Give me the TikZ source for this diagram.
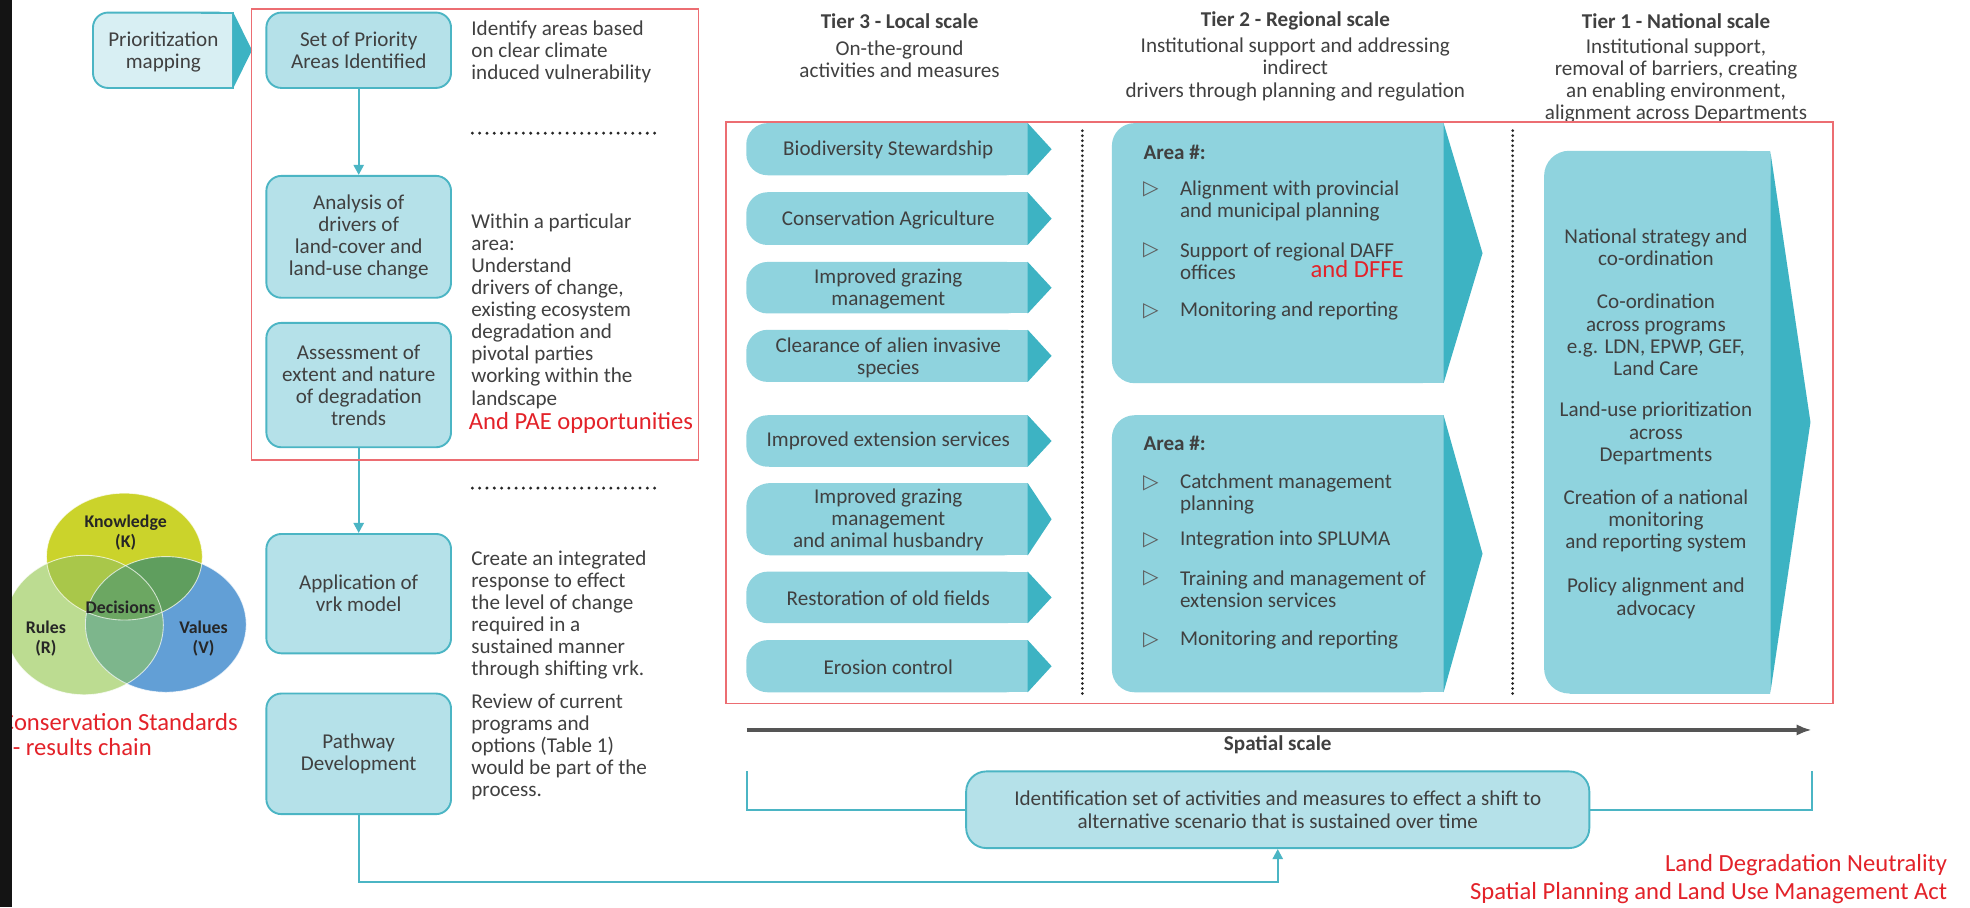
\documentclass[tikz,border=0pt]{standalone}
\usepackage{fontspec}
\setmainfont{Carlito}
\newfontfamily\dejavu{DejaVu Sans}
\usetikzlibrary{arrows.meta}
\definecolor{tealline}{HTML}{4BB5C4}
\definecolor{boxlight}{HTML}{B5E1E9}
\definecolor{boxprior}{HTML}{D8EFF3}
\definecolor{arrowbody}{HTML}{8FD3DE}
\definecolor{arrowtip}{HTML}{3DB3C3}
\definecolor{textgray}{HTML}{404040}
\definecolor{redtxt}{HTML}{E32229}
\definecolor{redline}{HTML}{EC6D72}
\definecolor{knowc}{HTML}{CBD32B}
\definecolor{rulesc}{HTML}{BCDC91}
\definecolor{valuesc}{HTML}{629FD6}
\definecolor{krc}{HTML}{A9C74A}
\definecolor{kvc}{HTML}{5F9E5E}
\definecolor{rvc}{HTML}{7DB68C}
\definecolor{krvc}{HTML}{6CA762}
\definecolor{scalec}{HTML}{555555}
\newcommand\bodyfont{\fontsize{16.8}{17.6}\selectfont}
\newcommand\redfont{\fontsize{19.6}{20}\selectfont}
\newcommand\chev[6]{%
  \fill[arrowbody, rounded corners=#6pt] (#1,#4) rectangle (#2,#5);
  \fill[arrowbody] ({#1+#6+1},#4) rectangle (#2,#5);
  \fill[arrowtip] (#2,#4) -- (#3,{(#4+#5)/2}) -- (#2,#5) -- cycle;}
\begin{document}
\begin{tikzpicture}[x=1pt,y=-1pt,
  body/.style={font=\bodyfont, text=textgray, inner sep=0pt},
  bodyL/.style={body, align=left, anchor=west},
  bodyC/.style={body, align=center},
  hdr/.style={font=\bodyfont\bfseries, text=textgray, inner sep=0pt},
  redt/.style={font=\redfont, text=redtxt, inner sep=0pt},
  lbox/.style={draw=tealline, fill=boxlight, line width=1.5pt, rounded corners=12pt, minimum width=147pt, inner sep=0pt, align=center, font=\bodyfont, text=textgray},
  conn/.style={draw=tealline, line width=1.8pt, -{Triangle[length=8pt,width=8pt]}},
  tealrule/.style={draw=tealline, line width=1.6pt},
  hdots/.style={draw=black!85, line width=2.6pt, dash pattern=on 0pt off 5.8pt, line cap=round},
  vdots/.style={draw=black!85, line width=2.4pt, dash pattern=on 0pt off 4pt, line cap=round},
  redbox/.style={draw=redline, line width=1.2pt},
  bullet/.style={font=\dejavu\fontsize{16}{16}\selectfont, text=textgray!85, inner sep=0pt},
  venn/.style={font=\bfseries\fontsize{14.2}{16}\selectfont, text=black!85, inner sep=0pt, align=center},
]
\useasboundingbox[fill=white] (0,0) rectangle (1568,722);

% ---------- Prioritization mapping ----------
\draw[tealline, fill=boxprior, line width=1.5pt, rounded corners=12pt] (74,10) rectangle (185.5,70);
\fill[boxprior] (160,10) rectangle (186,70);
\draw[tealline, line width=1.5pt] (160,10) -- (185.5,10) -- (185.5,70) -- (160,70);
\fill[arrowtip] (185.5,9.5) -- (200.6,40) -- (185.5,70.5) -- cycle;
\node[bodyC] (prior) at (130,41.7) {Prioritization\\mapping};

% ---------- left column ----------
\node[lbox, minimum height=60pt] (set) at (285.5,40) {Set of Priority\\Areas Identified};
\node[lbox, minimum height=97pt] (analysis) at (285.5,188.5) {Analysis of\\drivers of\\land-cover and\\land-use change};
\node[lbox, minimum height=99pt] (assess) at (285.5,306.5) {Assessment of\\extent and nature\\of degradation\\trends};
\node[lbox, minimum height=95pt] (apply) at (285.5,472.5) {Application of\\vrk model};
\node[lbox, minimum height=96pt] (pathway) at (285.5,600) {Pathway\\Development};
\draw[conn] (set.south) -- (analysis.north);
\draw[conn] (assess.south) -- (apply.north);

\node[bodyL] (idtxt) at (375,41) {Identify areas based\\on clear climate\\induced vulnerability};
\draw[hdots] (376,106) -- (524,106);
\node[bodyL] (withintxt) at (375,247.5) {Within a particular\\area:\\Understand\\drivers of change,\\existing ecosystem\\degradation and\\pivotal parties\\working within the\\landscape};
\node[redt, anchor=west] (pae) at (373,336.5) {And PAE opportunities};
\draw[hdots] (376,388.5) -- (524,388.5);
\node[bodyL] (createtxt) at (375,489.5) {Create an integrated\\response to effect\\the level of change\\required in a\\sustained manner\\through shifting vrk.};
\node[bodyL] (reviewtxt) at (375,594.5) {Review of current\\programs and\\options (Table 1)\\would be part of the\\process.};

% ---------- Venn ----------
\fill[rulesc] (67,497.5) ellipse [x radius=63, y radius=55.5];
\fill[valuesc] (132,497) ellipse [x radius=64, y radius=54];
\fill[knowc] (99,443) ellipse [x radius=62, y radius=50.5];
\begin{scope}
  \clip (67,497.5) ellipse [x radius=63, y radius=55.5];
  \fill[krc] (99,443) ellipse [x radius=62, y radius=50.5];
  \fill[rvc] (132,497) ellipse [x radius=64, y radius=54];
\end{scope}
\begin{scope}
  \clip (132,497) ellipse [x radius=64, y radius=54];
  \fill[kvc] (99,443) ellipse [x radius=62, y radius=50.5];
\end{scope}
\begin{scope}
  \clip (67,497.5) ellipse [x radius=63, y radius=55.5];
  \clip (132,497) ellipse [x radius=64, y radius=54];
  \fill[krvc] (99,443) ellipse [x radius=62, y radius=50.5];
\end{scope}
\draw[white, line width=0.7pt, opacity=0.7] (67,497.5) ellipse [x radius=63, y radius=55.5];
\draw[white, line width=0.7pt, opacity=0.7] (132,497) ellipse [x radius=64, y radius=54];
\draw[white, line width=0.7pt, opacity=0.7] (99,443) ellipse [x radius=62, y radius=50.5];
\node[venn] (ktxt) at (100,424) {Knowledge\\(K)};
\node[venn] (dtxt) at (96,483) {Decisions};
\node[venn] (rtxt) at (36.5,508.5) {Rules\\(R)};
\node[venn] (vtxt) at (162,508.5) {Values\\(V)};
\node[redt, anchor=west] (cs1) at (0.5,575) {Conservation Standards};
\node[redt, anchor=west] (cs2) at (10,594.5) {- results chain};

% ---------- headers ----------
\node[hdr] (t3h) at (716,16.5) {Tier 3 - Local scale};
\node[bodyC] (t3s) at (716,47) {On-the-ground\\activities and measures};
\node[hdr] (t2h) at (1031,16.5) {Tier 2 - Regional scale};
\node[bodyC] (t2s) at (1031,55.3) {Institutional support and addressing\\indirect\\drivers through planning and regulation};
\node[hdr] (t1h) at (1334,16.5) {Tier 1 - National scale};
\node[bodyC] (t1s) at (1334,64.3) {Institutional support,\\removal of barriers, creating\\an enabling environment,\\alignment across Departments};

% ---------- Tier 3 arrows ----------
\chev{594}{818}{837}{98}{139.5}{17}
\chev{594}{818}{837}{153}{195}{17}
\chev{594}{818}{837}{208.5}{249.5}{17}
\chev{594}{818}{837}{262.5}{304}{17}
\chev{594}{818}{837}{330.5}{371.5}{17}
\chev{594}{818}{837}{384.5}{442}{19}
\chev{594}{818}{837}{455}{496}{17}
\chev{594}{818}{837}{509.5}{551}{17}
\node[bodyC] (r1) at (707,119.5) {Biodiversity Stewardship};
\node[bodyC] (r2) at (707,175) {Conservation Agriculture};
\node[bodyC] (r3) at (707,230) {Improved grazing\\management};
\node[bodyC] (r4) at (707,284.5) {Clearance of alien invasive\\species};
\node[bodyC] (r5) at (707,351) {Improved extension services};
\node[bodyC] (r6) at (707,414) {Improved grazing\\management\\and animal husbandry};
\node[bodyC] (r7) at (707,476) {Restoration of old fields};
\node[bodyC] (r8) at (707,531) {Erosion control};

% ---------- Tier 2 boxes ----------
\chev{885}{1149}{1180}{98}{305}{18}
\chev{885}{1149}{1180}{330.5}{551}{18}
\node[hdr, anchor=west] (a1) at (910,121) {Area \#:};
\node[bullet] (b11) at (916,151) {▷};
\node[bodyL] (i11) at (939,159.75) {Alignment with provincial\\and municipal planning};
\node[bullet] (b12) at (916,199) {▷};
\node[bodyL] (i12) at (939,207.75) {Support of regional DAFF\\offices};
\node[redt, anchor=west] (dffe) at (1043,214) {and DFFE};
\node[bullet] (b13) at (916,247.5) {▷};
\node[bodyL] (i13) at (939,247.5) {Monitoring and reporting};
\node[hdr, anchor=west] (a2) at (910,353) {Area \#:};
\node[bullet] (b21) at (916,385) {▷};
\node[bodyL] (i21) at (939,393.5) {Catchment management\\planning};
\node[bullet] (b22) at (916,430) {▷};
\node[bodyL] (i22) at (939,430) {Integration into SPLUMA};
\node[bullet] (b23) at (916,460.5) {▷};
\node[bodyL] (i23) at (939,469.25) {Training and management of\\extension services};
\node[bullet] (b24) at (916,509.5) {▷};
\node[bodyL] (i24) at (939,509.5) {Monitoring and reporting};

% ---------- Tier 1 box ----------
\chev{1229}{1409}{1441}{120}{552}{20}
\node[bodyC] (n1) at (1318,197) {National strategy and\\co-ordination};
\node[bodyC] (n2) at (1318,266.5) {Co-ordination\\across programs\\e.g. LDN, EPWP, GEF,\\Land Care};
\node[bodyC] (n3) at (1318,345) {Land-use prioritization\\across\\Departments};
\node[bodyC] (n4) at (1318,414.75) {Creation of a national\\monitoring\\and reporting system};
\node[bodyC] (n5) at (1318,476.25) {Policy alignment and\\advocacy};

% ---------- dotted separators & red frames ----------
\draw[vdots] (861.5,104) -- (861.5,552);
\draw[vdots] (1204,104) -- (1204,552);
\draw[redbox] (200,7) rectangle (556,366);
\draw[redbox] (578,97) rectangle (1459,560);

% ---------- spatial scale ----------
\coordinate (sa) at (594.5,581);
\coordinate (sb) at (1442,581);
\draw[scalec, line width=2.6pt, -{Latex[length=12pt,width=9pt]}] (sa) -- (sb);
\node[hdr] (ss) at (1017,593) {Spatial scale};

% ---------- identification box & connectors ----------
\node[draw=tealline, fill=boxlight, line width=1.5pt, rounded corners=16pt, minimum width=496pt, minimum height=61pt, inner sep=0pt, align=center, font=\bodyfont, text=textgray] (ident) at (1017,644.5) {Identification set of activities and measures to effect a shift to\\alternative scenario that is sustained over time};
\coordinate (bl) at (594.5,614);
\coordinate (br) at (1442,614);
\draw[tealrule] (bl) |- (ident.west);
\draw[tealrule] (br) |- (ident.east);
\coordinate (pturn) at (285.5,702);
\draw[conn] (pathway.south) -- (pturn) -| (ident.south);

% ---------- bottom right notes ----------
\node[redt, anchor=east] (ldn) at (1550,688.5) {Land Degradation Neutrality};
\node[redt, anchor=east] (spluma) at (1550,711) {Spatial Planning and Land Use Management Act};

% ---------- dark left edge ----------
\fill[black!92] (0,0) rectangle (9.3,722);
\end{tikzpicture}
\end{document}
